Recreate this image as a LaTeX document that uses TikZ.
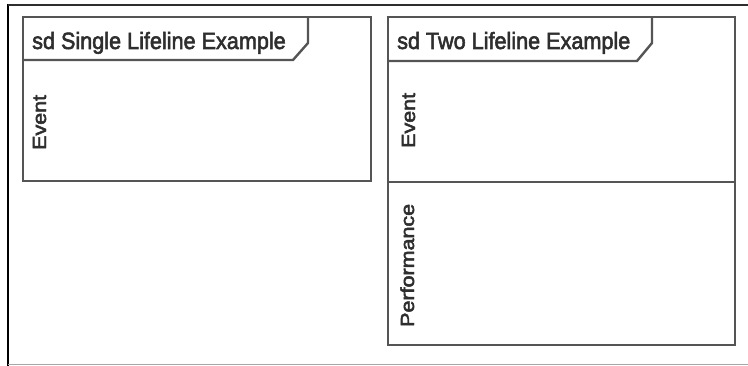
\documentclass[tikz,border=0pt]{standalone}
\usepackage{fontspec}
\setmainfont{Liberation Sans}
\newfontfamily\heavyface[FakeBold=2.5]{Liberation Sans}
\definecolor{framegray}{HTML}{555555}
\definecolor{inkgray}{HTML}{2E2E2E}
\begin{document}
\begin{tikzpicture}[x=1pt,y=-1pt,
  frameline/.style={draw=framegray,line width=2.4pt,line join=miter},
  titletext/.style={inner sep=0pt,text=inkgray,font=\heavyface\fontsize{23.5}{25}\selectfont,anchor=base west},
  lifelabel/.style={inner sep=0pt,text=inkgray,font=\heavyface\fontsize{19}{21}\selectfont,anchor=base west,rotate=90}]
  \useasboundingbox[fill=white] (0,0) rectangle (748,366);

  % page border
  \draw[black,line width=2.2pt] (8,4) -- (8,366);
  \draw[inkgray,line width=2.6pt] (8,5) -- (748,5);
  \draw[gray!70,line width=1.6pt] (8,364.5) -- (748,364.5);

  % single lifeline frame
  \draw[frameline] (23,17) rectangle (371,181);
  \draw[frameline] (23,60) -- (293,60) -- (308,43) -- (308,17);
  \node[titletext] (t1) at (32,49) {\scalebox{0.92}[1]{sd Single Lifeline Example}};
  \node[lifelabel] (e1) at (46,150) {\scalebox{1.13}[1]{Event}};

  % two lifeline frame
  \draw[frameline] (388,17) rectangle (735,345);
  \draw[frameline] (388,61) -- (637,61) -- (652,43) -- (652,17);
  \draw[frameline] (388,182) -- (735,182);
  \node[titletext] (t2) at (397,49) {\scalebox{0.92}[1]{sd Two Lifeline Example}};
  \node[lifelabel] (e2) at (415,148) {\scalebox{1.13}[1]{Event}};
  \node[lifelabel] (p2) at (414,327) {\scalebox{1.13}[1]{Performance}};
\end{tikzpicture}
\end{document}
